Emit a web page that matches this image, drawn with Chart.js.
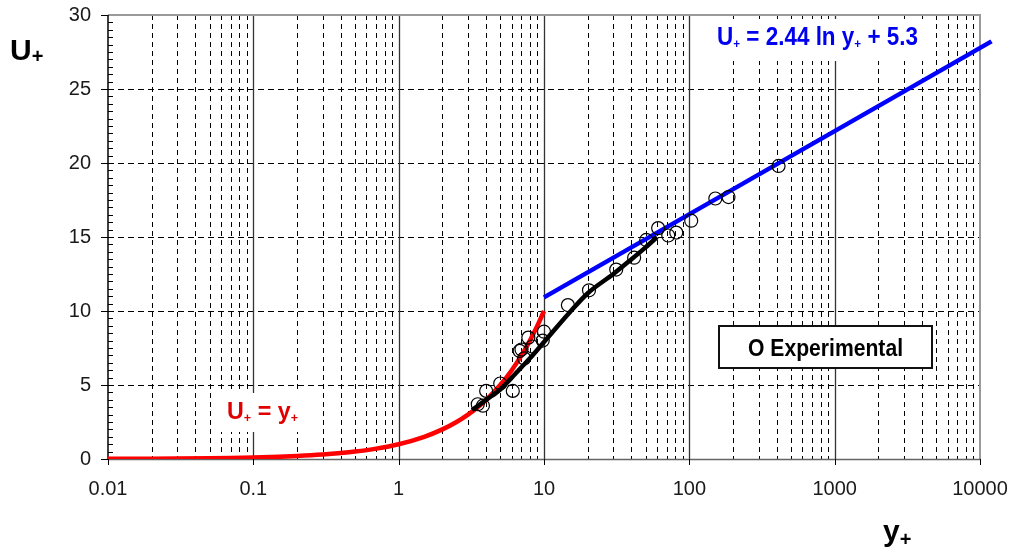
<!DOCTYPE html>
<html>
<head>
<meta charset="utf-8">
<script src="https://cdn.jsdelivr.net/npm/chart.js@4.4.0/dist/chart.umd.min.js"></script>
<style>
  html, body { margin: 0; background: #fff; }
  #wrap { width: 1017px; height: 551px; }
</style>
</head>
<body>
<div id="wrap"><canvas id="wallChart"></canvas></div>
<script>
const xTickValues = [0.01, 0.1, 1, 10, 100, 1000, 10000];
const xTickLabels = ['0.01', '0.1', '1', '10', '100', '1000', '10000'];
const yTickValues = [0, 5, 10, 15, 20, 25, 30];

// viscous sublayer, U+ = y+
const viscX = [0.01, 0.02, 0.03, 0.05, 0.07, 0.1, 0.15, 0.2, 0.3, 0.4, 0.5, 0.7, 1, 1.5, 2, 2.5, 3, 3.5, 4, 5, 6, 7, 8, 9, 10];
const viscY = [0.01, 0.02, 0.03, 0.05, 0.07, 0.1, 0.15, 0.2, 0.3, 0.4, 0.5, 0.7, 1, 1.5, 2, 2.5, 3, 3.5, 4, 5, 6, 7, 8, 9, 10];

// log law, U+ = 2.44 ln y+ + 5.3
const logX = [10, 12000];
const logY = [10.92, 28.22];

// buffer layer curve
const bufX = [3.2, 4, 5, 6, 7, 8, 10, 15, 20, 30, 40, 50, 60];
const bufY = [3.3, 4.0, 4.7, 5.5, 6.2, 6.8, 7.9, 9.9, 11.2, 12.5, 13.5, 14.3, 15.0];

// measured profile
const expX = [3.5, 3.8, 4.0, 5.0, 6.1, 6.8, 7.0, 7.3, 7.8, 8.3, 9.8, 10, 14.6, 20.4, 31.4, 41.7, 50.5, 61, 71.6, 81.3, 103, 151, 186, 411];
const expY = [3.7, 3.6, 4.6, 5.1, 4.6, 7.3, 7.4, 6.8, 8.2, 7.6, 8.0, 8.6, 10.4, 11.4, 12.8, 13.6, 14.8, 15.6, 15.1, 15.3, 16.1, 17.6, 17.7, 19.8];

const pts = (xs, ys) => xs.map((v, i) => ({ x: v, y: ys[i] }));

// draws [text, size, dy] pieces in a row, squeezed to a given width
function drawRun(ctx, parts, x, base, width, color) {
  ctx.save();
  ctx.fillStyle = color;
  ctx.textBaseline = 'alphabetic';
  let total = 0;
  parts.forEach(p => {
    ctx.font = 'bold ' + p[1] + 'px "Liberation Sans", Arial, sans-serif';
    total += ctx.measureText(p[0]).width;
  });
  ctx.translate(x, base);
  ctx.scale(width ? width / total : 1, 1);
  let cx = 0;
  parts.forEach(p => {
    ctx.font = 'bold ' + p[1] + 'px "Liberation Sans", Arial, sans-serif';
    ctx.fillText(p[0], cx, p[2] || 0);
    cx += ctx.measureText(p[0]).width;
  });
  ctx.restore();
}

const decor = {
  id: 'decor',
  beforeDatasetsDraw(chart) {
    const { ctx, chartArea: a, scales: { x, y } } = chart;
    ctx.save();

    // minor vertical grid
    ctx.strokeStyle = '#000';
    ctx.lineWidth = 1;
    ctx.setLineDash([5, 4]);
    for (let d = 0; d < xTickValues.length - 1; d++) {
      for (let m = 2; m <= 9; m++) {
        const px = Math.round(x.getPixelForValue(m * xTickValues[d])) + 0.5;
        ctx.beginPath(); ctx.moveTo(px, a.top); ctx.lineTo(px, a.bottom); ctx.stroke();
      }
    }
    // horizontal grid
    ctx.setLineDash([6, 4]);
    yTickValues.slice(1, -1).forEach(v => {
      const py = Math.round(y.getPixelForValue(v)) + 0.5;
      ctx.beginPath(); ctx.moveTo(a.left, py); ctx.lineTo(a.right, py); ctx.stroke();
    });
    ctx.setLineDash([]);

    // decade lines
    ctx.strokeStyle = '#333';
    ctx.lineWidth = 1.3;
    xTickValues.slice(1, -1).forEach(v => {
      const px = Math.round(x.getPixelForValue(v)) + 0.5;
      ctx.beginPath(); ctx.moveTo(px, a.top); ctx.lineTo(px, a.bottom); ctx.stroke();
    });

    // label backgrounds
    ctx.fillStyle = '#fff';
    ctx.fillRect(692, 19, 238, 42);
    ctx.fillRect(215, 393, 95, 39);

    // legend box
    ctx.fillRect(718, 325, 215, 44);
    ctx.strokeStyle = '#111';
    ctx.lineWidth = 2;
    ctx.strokeRect(719, 326, 213, 42);

    // frame
    ctx.strokeStyle = '#9a9a9a';
    ctx.lineWidth = 2;
    ctx.beginPath(); ctx.moveTo(a.left, a.top); ctx.lineTo(a.right, a.top); ctx.lineTo(a.right, a.bottom); ctx.stroke();
    ctx.strokeStyle = '#666';
    ctx.lineWidth = 1.3;
    ctx.beginPath(); ctx.moveTo(a.left, a.bottom + 0.5); ctx.lineTo(a.right, a.bottom + 0.5); ctx.stroke();

    // y axis with ticks
    ctx.strokeStyle = '#000';
    ctx.lineWidth = 1.5;
    ctx.beginPath(); ctx.moveTo(a.left, a.top); ctx.lineTo(a.left, a.bottom); ctx.stroke();
    ctx.lineWidth = 1;
    for (let v = 0; v <= 30; v += 0.5) {
      const py = Math.round(y.getPixelForValue(v)) + 0.5;
      ctx.beginPath();
      if (v % 5 === 0) { ctx.moveTo(a.left - 7, py); ctx.lineTo(a.left, py); }
      else { ctx.moveTo(a.left, py); ctx.lineTo(a.left + 5, py); }
      ctx.stroke();
    }
    // x axis decade ticks
    xTickValues.forEach(v => {
      const px = Math.round(x.getPixelForValue(v)) + 0.5;
      ctx.beginPath(); ctx.moveTo(px, a.bottom); ctx.lineTo(px, a.bottom + 6); ctx.stroke();
    });
    ctx.restore();
  },
  afterDraw(chart) {
    const { ctx } = chart;
    drawRun(ctx, [['U', 25], ['+', 13, 3], [' = 2.44 ln y', 25], ['+', 13, 3], [' + 5.3', 25]], 717, 45, 201, '#0000f0');
    drawRun(ctx, [['U', 24], ['+', 13, 3], [' = y', 24], ['+', 13, 3]], 227, 419, 71, '#e00000');
    drawRun(ctx, [['O Experimental', 23]], 748, 356, 155, '#000');
    drawRun(ctx, [['U', 30], ['+', 20, 3]], 10, 60, 0, '#000');
    drawRun(ctx, [['y', 30], ['+', 20, 5]], 883, 541, 0, '#000');
  }
};

const tickFont = { family: '"Liberation Sans", Arial, sans-serif', size: 20 };

new Chart(document.getElementById('wallChart'), {
  type: 'scatter',
  data: {
    datasets: [
      {
        label: 'Experimental',
        data: pts(expX, expY),
        showLine: false,
        pointRadius: 6.5,
        pointBorderWidth: 1.2,
        pointBorderColor: '#000',
        pointBackgroundColor: 'rgba(0,0,0,0)'
      },
      {
        label: 'buffer',
        data: pts(bufX, bufY),
        showLine: true,
        borderColor: '#000',
        borderWidth: 4.5,
        pointRadius: 0,
        cubicInterpolationMode: 'monotone'
      },
      {
        label: 'log law',
        data: pts(logX, logY),
        showLine: true,
        borderColor: '#0000ff',
        borderWidth: 4.5,
        pointRadius: 0,
        clip: false
      },
      {
        label: 'viscous',
        data: pts(viscX, viscY),
        showLine: true,
        borderColor: '#ff0000',
        borderWidth: 4.5,
        pointRadius: 0,
        cubicInterpolationMode: 'monotone'
      }
    ]
  },
  options: {
    responsive: true,
    maintainAspectRatio: false,
    animation: false,
    layout: { padding: { left: 0, top: 15, right: 37, bottom: 0 } },
    plugins: { legend: { display: false }, tooltip: { enabled: false } },
    scales: {
      x: {
        type: 'logarithmic',
        min: 0.01,
        max: 10000,
        afterBuildTicks: s => { s.ticks = xTickValues.map(v => ({ value: v })); },
        afterFit: s => { s.height = 92; s.paddingLeft = 0; s.paddingRight = 0; },
        grid: { display: false, drawTicks: false },
        border: { display: false },
        ticks: {
          autoSkip: false,
          maxRotation: 0,
          padding: 18,
          color: '#1a1a1a',
          font: tickFont,
          callback: (v, i) => xTickLabels[i]
        }
      },
      y: {
        type: 'linear',
        min: 0,
        max: 30,
        afterBuildTicks: s => { s.ticks = yTickValues.map(v => ({ value: v })); },
        afterFit: s => { s.width = 108; s.paddingTop = 0; s.paddingBottom = 0; },
        grid: { display: false, drawTicks: false },
        border: { display: false },
        ticks: {
          padding: 17,
          color: '#1a1a1a',
          font: tickFont,
          callback: v => String(v)
        }
      }
    }
  },
  plugins: [decor]
});
</script>
</body>
</html>
